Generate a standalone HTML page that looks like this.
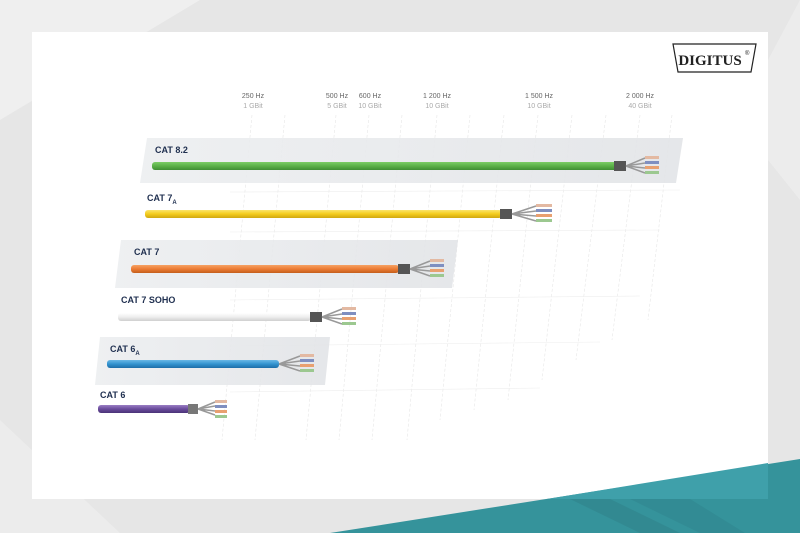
<!DOCTYPE html>
<html><head><meta charset="utf-8"><style>
html,body{margin:0;padding:0;width:800px;height:533px;overflow:hidden;background:#e6e6e6}
svg{display:block}
text{font-family:"Liberation Sans",sans-serif}
</style></head><body>
<svg width="800" height="533" viewBox="0 0 800 533" xmlns="http://www.w3.org/2000/svg">
<defs>
<linearGradient id="g1" x1="0" y1="0" x2="0" y2="1">
<stop offset="0" stop-color="#7ccc66"/><stop offset="0.5" stop-color="#5bb048"/><stop offset="1" stop-color="#3f8e34"/></linearGradient>
<linearGradient id="g2" x1="0" y1="0" x2="0" y2="1">
<stop offset="0" stop-color="#fbe46a"/><stop offset="0.5" stop-color="#f4cc1c"/><stop offset="1" stop-color="#d0a810"/></linearGradient>
<linearGradient id="g3" x1="0" y1="0" x2="0" y2="1">
<stop offset="0" stop-color="#f6a264"/><stop offset="0.5" stop-color="#ec7c34"/><stop offset="1" stop-color="#c45e1c"/></linearGradient>
<linearGradient id="g4" x1="0" y1="0" x2="0" y2="1">
<stop offset="0" stop-color="#ffffff"/><stop offset="0.5" stop-color="#eeeeee"/><stop offset="1" stop-color="#cfcfcf"/></linearGradient>
<linearGradient id="g5" x1="0" y1="0" x2="0" y2="1">
<stop offset="0" stop-color="#6ab8e6"/><stop offset="0.5" stop-color="#3393cf"/><stop offset="1" stop-color="#1e6ea8"/></linearGradient>
<linearGradient id="g6" x1="0" y1="0" x2="0" y2="1">
<stop offset="0" stop-color="#9a7ec4"/><stop offset="0.5" stop-color="#6a4c9c"/><stop offset="1" stop-color="#4a3278"/></linearGradient>
<linearGradient id="band" x1="0" y1="0" x2="1" y2="0">
<stop offset="0" stop-color="#eceef0"/><stop offset="1" stop-color="#e2e4e7"/></linearGradient>
</defs>
<polygon points="0,0 200,0 0,120" fill="#efefef"/>
<polygon points="0,533 0,420 120,533" fill="#ececec"/>
<polygon points="768,60 800,0 800,200 768,160" fill="#ececec"/>
<rect x="32" y="32" width="736" height="467" fill="#ffffff"/>
<!-- teal -->
<polygon points="330,533 800,459 800,533" fill="#35939b"/>
<polygon points="547,499 768,463 768,499" fill="#3fa0aa"/>
<polygon points="570,499 610,499 680,533 640,533" fill="#2f7f87" opacity="0.5"/>
<polygon points="630,499 690,499 745,533 700,533" fill="#2f7f87" opacity="0.35"/>

<!-- grid -->
<g stroke="#e6e6e6" stroke-width="0.6" stroke-dasharray="3,2" fill="none">
<line x1="252" y1="115" x2="222" y2="440"/>
<line x1="285" y1="115" x2="255" y2="440"/>
<line x1="336" y1="115" x2="306" y2="440"/>
<line x1="369" y1="115" x2="339" y2="440"/>
<line x1="402" y1="115" x2="372" y2="440"/>
<line x1="437" y1="115" x2="407" y2="440"/>
<line x1="470" y1="115" x2="440" y2="420"/>
<line x1="504" y1="115" x2="474" y2="410"/>
<line x1="538" y1="115" x2="508" y2="400"/>
<line x1="572" y1="115" x2="542" y2="380"/>
<line x1="606" y1="115" x2="576" y2="360"/>
<line x1="640" y1="115" x2="612" y2="340"/>
<line x1="672" y1="115" x2="648" y2="320"/>
</g>
<g stroke="#eeeeee" stroke-width="0.6" fill="none">
<line x1="230" y1="192" x2="680" y2="190"/>
<line x1="230" y1="232" x2="660" y2="230"/>
<line x1="230" y1="300" x2="640" y2="296"/>
<line x1="230" y1="346" x2="600" y2="342"/>
<line x1="230" y1="392" x2="540" y2="388"/>
</g>

<!-- bands -->
<polygon points="147,138 683,138 676,183 140,183" fill="url(#band)" opacity="0.9"/>
<polygon points="121,240 458,240 452,288 115,288" fill="url(#band)" opacity="0.9"/>
<polygon points="100,337 330,337 325,385 95,385" fill="url(#band)" opacity="0.9"/>

<!-- headers -->
<g font-size="7" text-anchor="middle">
<g fill="#666"><text x="253" y="98">250 Hz</text><text x="337" y="98">500 Hz</text><text x="370" y="98">600 Hz</text><text x="437" y="98">1 200 Hz</text><text x="539" y="98">1 500 Hz</text><text x="640" y="98">2 000 Hz</text></g>
<g fill="#aaa"><text x="253" y="108">1 GBit</text><text x="337" y="108">5 GBit</text><text x="370" y="108">10 GBit</text><text x="437" y="108">10 GBit</text><text x="539" y="108">10 GBit</text><text x="640" y="108">40 GBit</text></g>
</g>

<!-- logo -->
<polygon points="673,44 756,44 751,72 678,72" fill="#fff" stroke="#222" stroke-width="1.2"/>
<text x="710" y="65" text-anchor="middle" font-size="15" font-weight="bold" fill="#222" style="font-family:'Liberation Serif',serif">DIGITUS</text>
<text x="745" y="55" font-size="6" fill="#222">®</text>

<!-- labels -->
<g font-size="9" font-weight="bold" fill="#1f2f4f">
<text x="155" y="153">CAT 8.2</text>
<text x="147" y="201">CAT 7<tspan font-size="6" dy="3">A</tspan></text>
<text x="134" y="255">CAT 7</text>
<text x="121" y="303">CAT 7 SOHO</text>
<text x="110" y="352">CAT 6<tspan font-size="6" dy="3">A</tspan></text>
<text x="100" y="398">CAT 6</text>
</g>

<!-- cables -->
<g>
<rect x="152" y="162" width="470" height="8" rx="3" fill="url(#g1)"/>
<rect x="145" y="210" width="357" height="8" rx="3" fill="url(#g2)"/>
<rect x="131" y="265" width="268" height="8" rx="3" fill="url(#g3)"/>
<rect x="118" y="313" width="193" height="8" rx="3" fill="url(#g4)"/>
<rect x="107" y="360" width="172" height="8" rx="3" fill="url(#g5)"/>
<rect x="98" y="405" width="92" height="8" rx="3" fill="url(#g6)"/>
</g>
<g>
<rect x="614" y="161" width="12" height="10" fill="#555"/>
<rect x="500" y="209" width="12" height="10" fill="#555"/>
<rect x="398" y="264" width="12" height="10" fill="#555"/>
<rect x="310" y="312" width="12" height="10" fill="#555"/>
<rect x="188" y="404" width="10" height="10" fill="#777"/>
</g>
<g stroke="#999" stroke-width="1.5" fill="none">
<path d="M626 166 L645 158 M626 166 L645 163 M626 166 L645 168 M626 166 L645 173"/>
<path d="M512 214 L536 206 M512 214 L536 211 M512 214 L536 216 M512 214 L536 221"/>
<path d="M410 269 L430 261 M410 269 L430 266 M410 269 L430 271 M410 269 L430 276"/>
<path d="M322 317 L342 309 M322 317 L342 314 M322 317 L342 319 M322 317 L342 324"/>
<path d="M279 364 L300 356 M279 364 L300 361 M279 364 L300 366 M279 364 L300 371"/>
<path d="M198 409 L215 402 M198 409 L215 406 M198 409 L215 411 M198 409 L215 415"/>
</g>
<g>
<g transform="translate(645,156)"><rect width="14" height="3" fill="#e3b9a2"/><rect y="5" width="14" height="3" fill="#7f8fc0"/><rect y="10" width="14" height="3" fill="#e8a070"/><rect y="15" width="14" height="3" fill="#9cc890"/></g>
<g transform="translate(536,204)"><rect width="16" height="3" fill="#e3b9a2"/><rect y="5" width="16" height="3" fill="#7f8fc0"/><rect y="10" width="16" height="3" fill="#e8a070"/><rect y="15" width="16" height="3" fill="#9cc890"/></g>
<g transform="translate(430,259)"><rect width="14" height="3" fill="#e3b9a2"/><rect y="5" width="14" height="3" fill="#7f8fc0"/><rect y="10" width="14" height="3" fill="#e8a070"/><rect y="15" width="14" height="3" fill="#9cc890"/></g>
<g transform="translate(342,307)"><rect width="14" height="3" fill="#e3b9a2"/><rect y="5" width="14" height="3" fill="#7f8fc0"/><rect y="10" width="14" height="3" fill="#e8a070"/><rect y="15" width="14" height="3" fill="#9cc890"/></g>
<g transform="translate(300,354)"><rect width="14" height="3" fill="#e3b9a2"/><rect y="5" width="14" height="3" fill="#7f8fc0"/><rect y="10" width="14" height="3" fill="#e8a070"/><rect y="15" width="14" height="3" fill="#9cc890"/></g>
<g transform="translate(215,400)"><rect width="12" height="3" fill="#e3b9a2"/><rect y="5" width="12" height="3" fill="#7f8fc0"/><rect y="10" width="12" height="3" fill="#e8a070"/><rect y="15" width="12" height="3" fill="#9cc890"/></g>
</g>
</svg>
</body></html>
